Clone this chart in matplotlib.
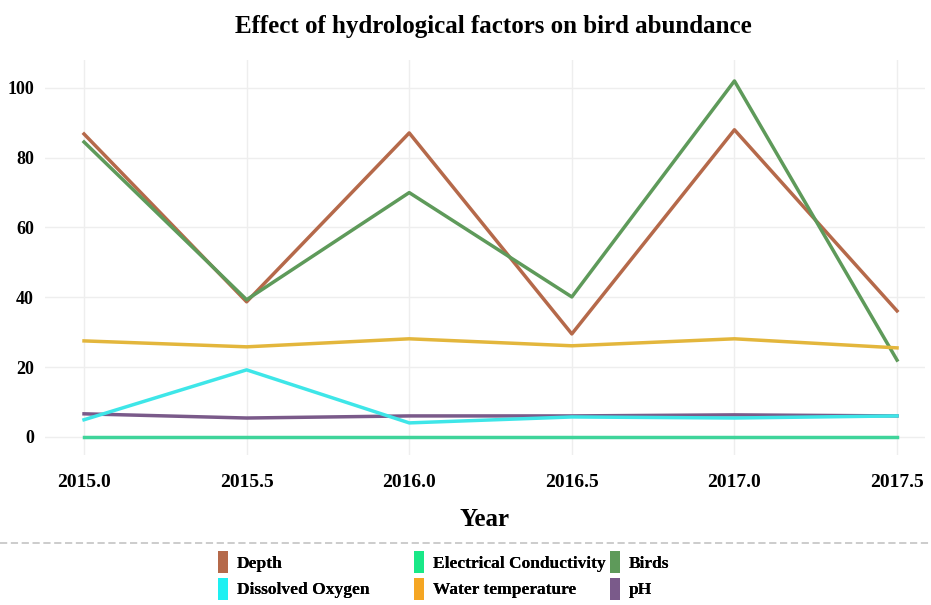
import matplotlib.pyplot as plt
from matplotlib.lines import Line2D
from matplotlib.patches import Patch

years = [2015.0, 2015.5, 2016.0, 2016.5, 2017.0, 2017.5]

depth = [86.8, 38.7, 87.1, 29.5, 88.0, 36.1]
birds = [84.5, 39.3, 70.0, 40.1, 102.0, 22.0]
water_temp = [27.5, 25.8, 28.1, 26.1, 28.1, 25.5]
dissolved_oxygen = [4.9, 19.2, 4.0, 5.7, 5.4, 6.0]
ph = [6.6, 5.4, 6.0, 6.0, 6.3, 6.0]
conductivity = [0.1, 0.1, 0.1, 0.1, 0.1, 0.1]

x_ticks = [2015.0, 2015.5, 2016.0, 2016.5, 2017.0, 2017.5]
y_ticks = [0, 20, 40, 60, 80, 100]

colors = {
    "Depth": "#b5694a",
    "Dissolved Oxygen": "#3ee6e8",
    "Electrical Conductivity": "#3fd49a",
    "Water temperature": "#e3b63c",
    "Birds": "#5e9a5a",
    "pH": "#7a5a8a",
}
legend_colors = {
    "Depth": "#b5694a",
    "Dissolved Oxygen": "#1ef0f2",
    "Electrical Conductivity": "#19e887",
    "Water temperature": "#f5a623",
    "Birds": "#5e9a5a",
    "pH": "#7a5a8a",
}

plt.rcParams["font.family"] = ["Liberation Serif", "DejaVu Serif"]
plt.rcParams["font.weight"] = "bold"

fig = plt.figure(figsize=(9.31, 6.05), dpi=100)
ax = fig.add_axes([45 / 931, 1 - 455 / 605, 880 / 931, 395 / 605])

lw = 2.5
ax.plot(years, depth, color=colors["Depth"], lw=lw)
ax.plot(years, birds, color=colors["Birds"], lw=lw)
ax.plot(years, water_temp, color=colors["Water temperature"], lw=lw)
ax.plot(years, ph, color=colors["pH"], lw=lw)
ax.plot(years, dissolved_oxygen, color=colors["Dissolved Oxygen"], lw=lw)
ax.plot(years, conductivity, color=colors["Electrical Conductivity"], lw=lw)

ax.set_xlim(2014.88, 2017.586)
ax.set_ylim(-5.2, 108.0)
ax.set_xticks(x_ticks)
ax.set_xticklabels([f"{t:.1f}" for t in x_ticks], fontsize=14, fontweight="bold")
ax.set_yticks(y_ticks)
ax.set_yticklabels([str(t) for t in y_ticks], fontsize=13, fontweight="bold")
ax.tick_params(length=0, pad=8)
ax.tick_params(axis="x", pad=14)
ax.grid(True, color="#eeeeee", lw=1)
ax.set_axisbelow(True)
for s in ax.spines.values():
    s.set_visible(False)

ax.set_xlabel("Year", fontsize=18, fontweight="bold", labelpad=12)
fig.text(493 / 931, 1 - 27 / 605, "Effect of hydrological factors on bird abundance",
         ha="center", va="center", fontsize=18, fontweight="bold")

# dashed separator above the legend
fig.add_artist(Line2D([0, 1], [1 - 543 / 605] * 2, transform=fig.transFigure,
                      ls=(0, (4, 2)), color="#c8c8c8", lw=1.3))

# legend laid out as three columns at fixed positions
columns = [["Depth", "Dissolved Oxygen"],
           ["Electrical Conductivity", "Water temperature"],
           ["Birds", "pH"]]
col_x = [218, 414, 610]
for names, x in zip(columns, col_x):
    handles = [Patch(facecolor=legend_colors[k], edgecolor="none", label=k) for k in names]
    leg = fig.legend(handles=handles, loc="upper left", bbox_to_anchor=(x / 931, 1 - 551 / 605),
                     ncol=1, frameon=False, fontsize=12.5, handlelength=0.6, handleheight=1.6,
                     handletextpad=0.5, labelspacing=0.25, borderpad=0, borderaxespad=0)
    fig.add_artist(leg)

fig.savefig("out.png", dpi=100)
